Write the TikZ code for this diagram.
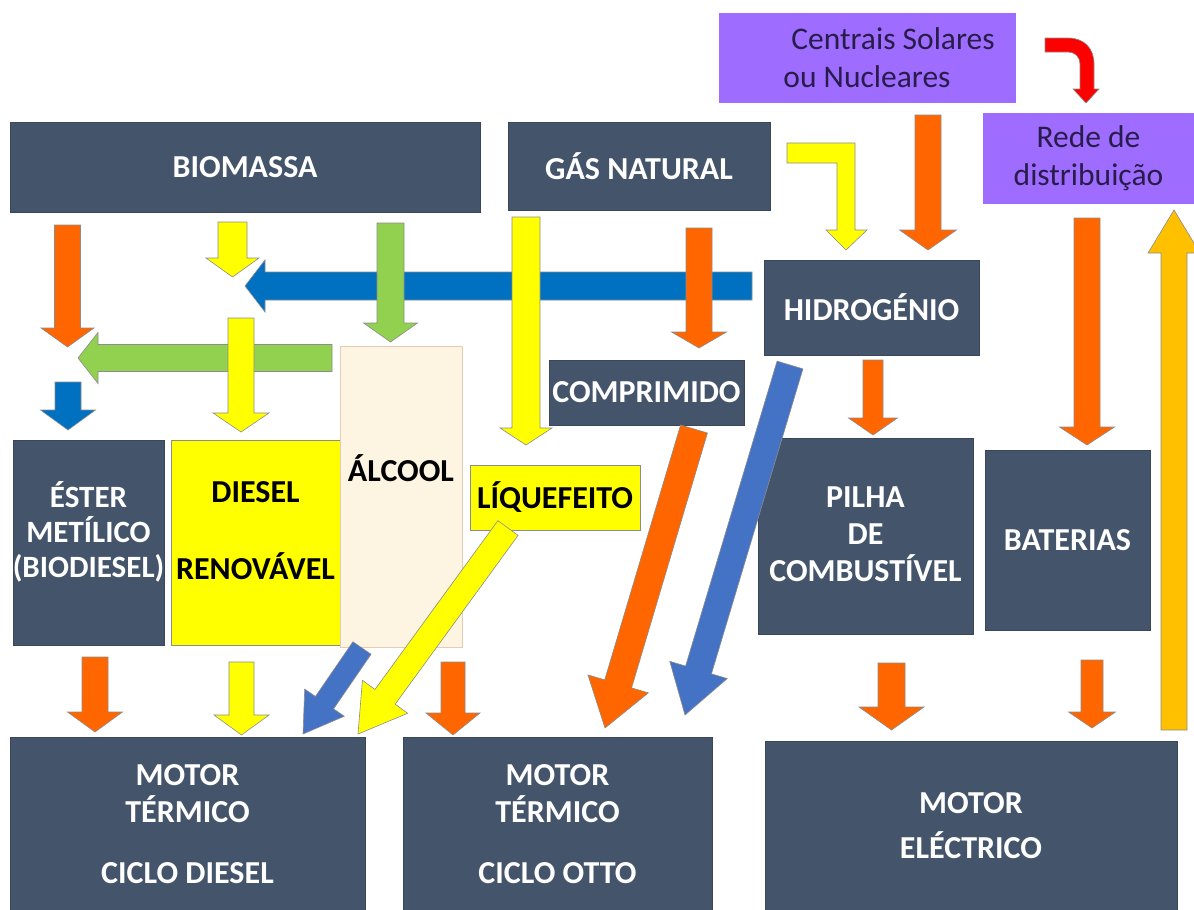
\documentclass[tikz,border=0pt]{standalone}
\usepackage{fontspec}
\setmainfont{Carlito}
\usetikzlibrary{calc}
\definecolor{slate}{RGB}{68,84,106}
\definecolor{orng}{RGB}{255,102,0}
\definecolor{yel}{RGB}{255,255,0}
\definecolor{grn}{RGB}{146,208,80}
\definecolor{blu}{RGB}{0,112,192}
\definecolor{blutwo}{RGB}{68,114,196}
\definecolor{amber}{RGB}{255,192,0}
\definecolor{redc}{RGB}{255,0,0}
\definecolor{purp}{RGB}{158,108,255}
\definecolor{cream}{RGB}{253,245,226}
\definecolor{ptext}{RGB}{40,28,75}
% block arrow: style, start, tip, shaft width, head width, head length
\newcommand\barr[6]{%
 \path[blockarrow,#1] let \p1=(#2), \p2=(#3),
   \n1={atan2(\y2-\y1,\x2-\x1)}, \n2={veclen(\x2-\x1,\y2-\y1)} in
   ([shift={(\p1)},rotate=\n1]0,{#4/2})
   -- ([shift={(\p1)},rotate=\n1]{\n2-#6},{#4/2})
   -- ([shift={(\p1)},rotate=\n1]{\n2-#6},{#5/2})
   -- (\p2)
   -- ([shift={(\p1)},rotate=\n1]{\n2-#6},{-#5/2})
   -- ([shift={(\p1)},rotate=\n1]{\n2-#6},{-#4/2})
   -- ([shift={(\p1)},rotate=\n1]0,{-#4/2}) -- cycle;}
\begin{document}
\begin{tikzpicture}[x=1pt,y=-1pt,
  box/.style={rectangle,fill=slate,draw=slate!85!black,line width=0.6pt,text=white,
    font=\fontsize{32}{37}\selectfont\bfseries,align=center,inner sep=0pt},
  txt/.style={box,fill=none,draw=none},
  ybox/.style={box,fill=yel,draw=black!45,text=black},
  pbox/.style={box,fill=purp,draw=purp,text=ptext,font=\fontsize{31.5}{38}\selectfont},
  blockarrow/.style={draw=black!45,line width=0.6pt,line join=miter}]
\useasboundingbox (0,0) rectangle (1194,910);
\fill[white] (0,0) rectangle (1194,910);

% boxes
\node[box,minimum width=470,minimum height=90] (biomassa) at (245,167) {BIOMASSA};
\node[box,minimum width=262,minimum height=88] (gas) at (639,166) {GÁS NATURAL};
\node[pbox,minimum width=296,minimum height=89] (centrais) at (867,57.5) {\hspace*{52pt}Centrais Solares\\ou Nucleares};
\node[pbox,minimum width=211,minimum height=90] (rede) at (1088.5,158) {Rede de\\distribuição};
\node[box,minimum width=215,minimum height=95] (hidro) at (871.5,307.5) {HIDROGÉNIO};
\node[box,minimum width=195,minimum height=65] (compr) at (646.5,392.5) {COMPRIMIDO};
\node[box,minimum width=151,minimum height=205] (ester) at (88.5,542.5) {};
\node[txt,font=\fontsize{31}{35}\selectfont\bfseries] at (88.5,532) {ÉSTER\\METÍLICO\\(BIODIESEL)};
\node[ybox,minimum width=169,minimum height=205] (diesel) at (255.5,542.5) {};
\node[txt,text=black,font=\fontsize{32}{77}\selectfont\bfseries] at (255.5,531) {DIESEL\\RENOVÁVEL};
\node[box,fill=cream,draw=brown!40,minimum width=122,minimum height=301] (alcool) at (401,496.5) {};
\node[txt,text=black] at (401,468) {ÁLCOOL};
\node[box,minimum width=215,minimum height=196] (pilha) at (865.5,536) {};
\node[txt] at (865.5,534) {PILHA\\DE\\COMBUSTÍVEL};
\node[box,minimum width=165,minimum height=180] (bat) at (1067.5,540) {BATERIAS};
\node[box,minimum width=355,minimum height=173] (mdiesel) at (187.5,823.5) {};
\node[txt] at (187.5,824) {MOTOR\\TÉRMICO\\[24pt]CICLO DIESEL};
\node[box,minimum width=309,minimum height=173] (motto) at (557.5,823.5) {};
\node[txt] at (557.5,824) {MOTOR\\TÉRMICO\\[24pt]CICLO OTTO};
\node[box,minimum width=412,minimum height=169,font=\fontsize{32}{45}\selectfont\bfseries] (melec) at (971,825.5) {MOTOR\\ELÉCTRICO};

% arrows
\barr{fill=blu}{752,286}{245,286}{28}{52}{20}
\barr{fill=grn}{332,358}{78,358}{27}{51}{20}
\barr{fill=orng}{67.5,225}{67.5,347}{26}{53}{19}
\barr{fill=yel}{232.5,222}{232.5,277}{29}{53}{19}
\barr{fill=grn}{390.5,223}{390.5,342}{27}{54}{19}
\barr{fill=blu}{68,382}{68,430}{26}{55}{20}
\barr{fill=yel}{241,318}{241,432}{26}{56}{19}
\barr{fill=yel}{526,217}{526,445}{28}{52}{17}
\barr{fill=orng}{699,228}{699,348}{26}{55}{16}
\node[ybox,minimum width=170,minimum height=65] (liq) at (555,497.5) {LÍQUEFEITO};
\barr{fill=orng}{694,429}{605,728}{28}{63}{46}
\barr{fill=blutwo}{790,365}{685,715}{27}{60}{47}
\barr{fill=blutwo}{362,648}{303,734}{22}{48}{38}
\barr{fill=yel}{508,528}{358,734}{25}{56}{46}
\barr{fill=orng}{95,657}{95,732}{26}{55}{20}
\barr{fill=yel}{241.5,662}{241.5,735}{25}{55}{20}
\barr{fill=orng}{453,662}{453,735}{24}{54}{22}
\barr{fill=orng}{928,115}{928,250}{26}{57}{20}
\barr{fill=orng}{873,360}{873,435}{20}{49}{17}
\barr{fill=orng}{1087,218}{1087,445}{26}{55}{18}
\barr{fill=amber}{1174,730}{1174,210}{26}{52}{43}
\barr{fill=orng}{891.5,663}{891.5,730}{27}{65}{23}
\barr{fill=orng}{1092,660}{1092,728}{22}{47}{16}
% bent yellow arrow gas -> hidrogenio
\path[blockarrow,fill=yel] (787,143) -- (855,143) -- (855,230) -- (867,230) -- (846,250)
  -- (826,230) -- (837,230) -- (837,163) -- (787,163) -- cycle;
% curved red arrow centrais -> rede
\path[blockarrow,fill=redc] (1045,38) -- (1068,38) .. controls (1084,38) and (1094,48) .. (1094,64)
  -- (1094,89) -- (1099,89) -- (1086,103) -- (1073,89) -- (1080,89) -- (1080,64)
  .. controls (1080,57) and (1075,52) .. (1068,52) -- (1045,52) -- cycle;
\end{tikzpicture}
\end{document}
